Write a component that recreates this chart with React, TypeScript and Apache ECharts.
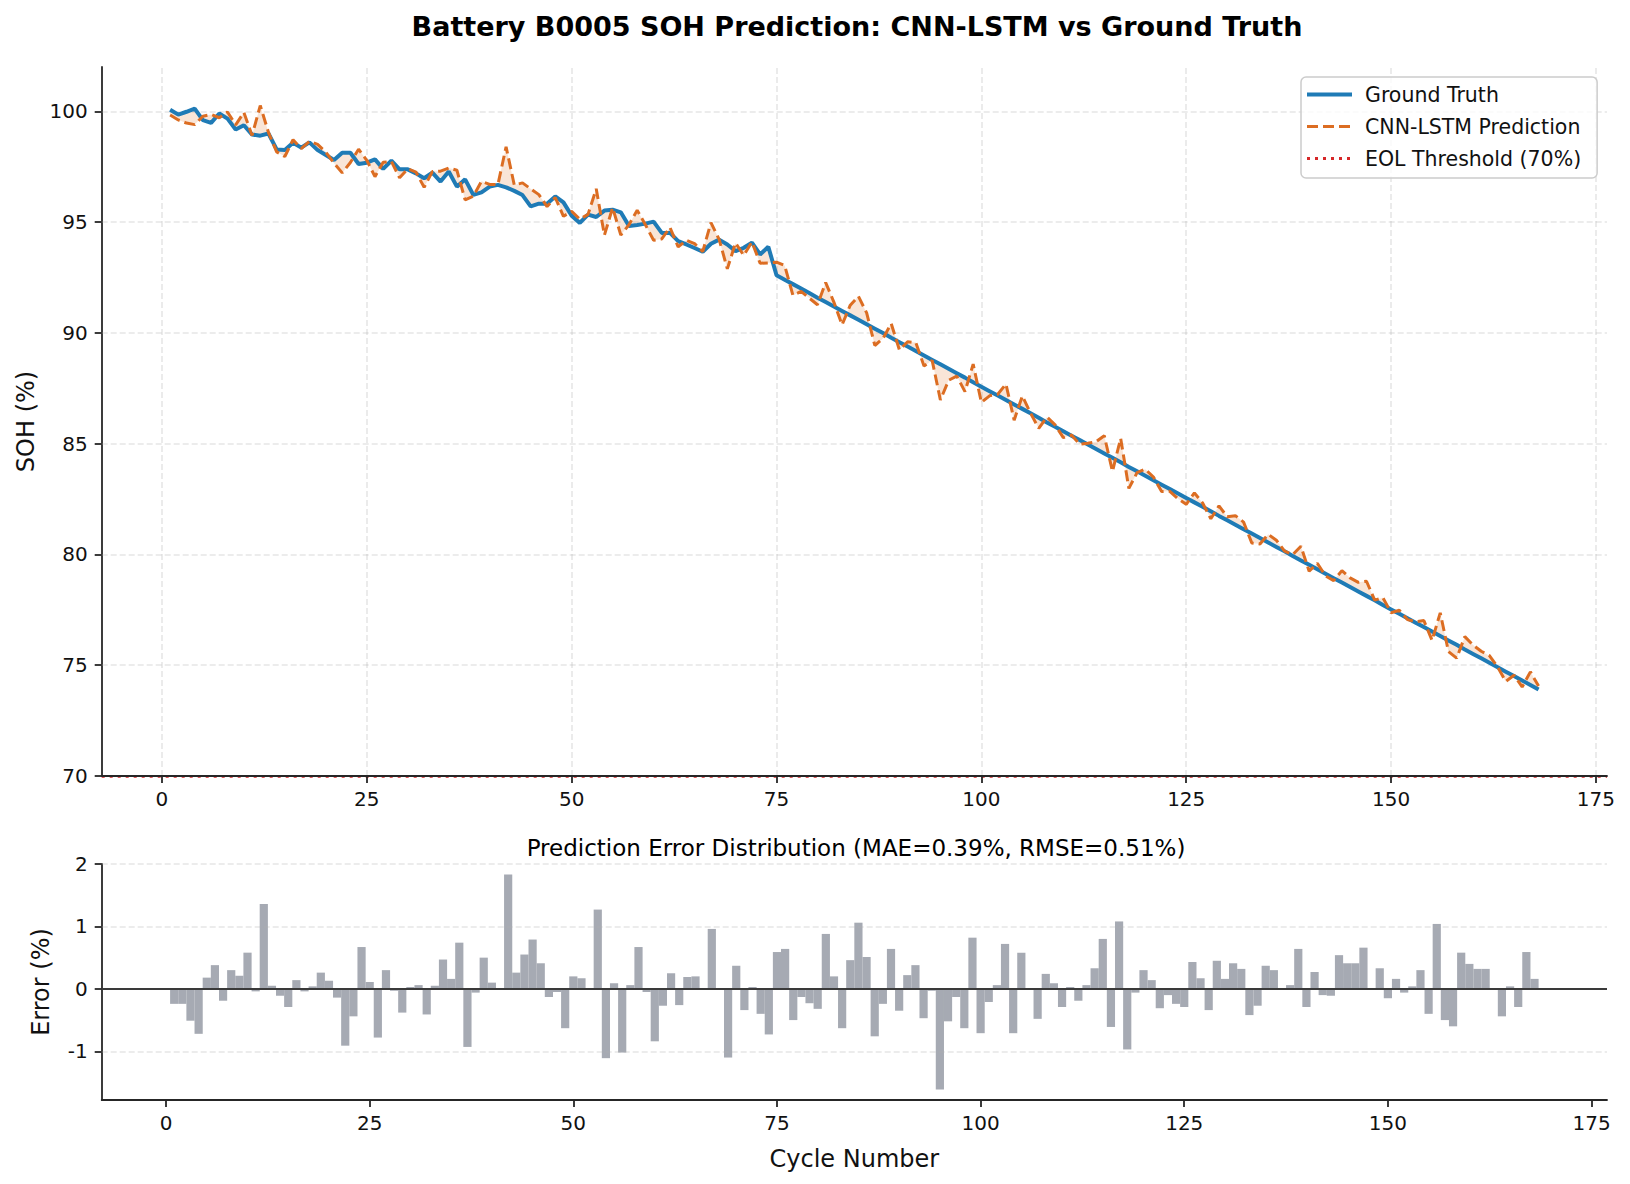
import React, { useEffect, useRef } from 'react';
import * as echarts from 'echarts';

// cycle numbers 1..168
const cycles: number[] = Array.from({ length: 168 }, (_, i) => i + 1);

const groundTruth: number[] = [
  100.07, 99.85, 99.98, 100.12, 99.6, 99.48, 99.9, 99.67, 99.18, 99.37,
  98.95, 98.9, 99.0, 98.28, 98.25, 98.58, 98.36, 98.6, 98.25, 98.03,
  97.8, 98.13, 98.13, 97.62, 97.68, 97.83, 97.4, 97.77, 97.38, 97.38,
  97.2, 96.98, 97.23, 96.83, 97.28, 96.6, 96.93, 96.23, 96.34, 96.6,
  96.68, 96.57, 96.41, 96.22, 95.71, 95.83, 95.83, 96.16, 95.89, 95.29,
  94.96, 95.34, 95.23, 95.52, 95.56, 95.44, 94.82, 94.87, 94.93, 95.02,
  94.51, 94.51, 94.14, 93.99, 93.83, 93.66, 94.02, 94.21, 93.99, 93.69,
  93.84, 94.07, 93.54, 93.89, 92.6, 92.4, 92.2, 92.0, 91.8, 91.59,
  91.39, 91.19, 90.99, 90.79, 90.59, 90.39, 90.19, 89.99, 89.78, 89.58,
  89.38, 89.18, 88.98, 88.78, 88.58, 88.38, 88.18, 87.98, 87.77, 87.57,
  87.37, 87.17, 86.97, 86.77, 86.57, 86.37, 86.17, 85.96, 85.76, 85.56,
  85.36, 85.16, 84.96, 84.76, 84.56, 84.36, 84.16, 83.95, 83.75, 83.55,
  83.35, 83.15, 82.95, 82.75, 82.55, 82.35, 82.15, 81.95, 81.74, 81.54,
  81.34, 81.14, 80.94, 80.74, 80.54, 80.34, 80.14, 79.93, 79.73, 79.53,
  79.33, 79.13, 78.93, 78.73, 78.53, 78.33, 78.13, 77.93, 77.72, 77.52,
  77.32, 77.12, 76.92, 76.72, 76.52, 76.32, 76.12, 75.92, 75.71, 75.51,
  75.31, 75.11, 74.91, 74.71, 74.51, 74.31, 74.11, 73.9,
];

// prediction error (prediction - truth)
const errors: number[] = [
  -0.24, -0.24, -0.51, -0.72, 0.18, 0.38, -0.19, 0.3, 0.21, 0.58,
  -0.04, 1.36, 0.05, -0.11, -0.29, 0.14, -0.04, 0.04, 0.26, 0.13,
  -0.14, -0.91, -0.44, 0.67, 0.11, -0.78, 0.3, -0.03, -0.38, 0.03,
  0.06, -0.41, 0.05, 0.47, 0.16, 0.74, -0.93, -0.06, 0.5, 0.1,
  0.01, 1.83, 0.26, 0.55, 0.79, 0.41, -0.13, -0.05, -0.63, 0.2,
  0.17, 0.01, 1.27, -1.11, 0.09, -1.02, 0.06, 0.67, -0.05, -0.84,
  -0.27, 0.25, -0.26, 0.19, 0.2, 0.01, 0.96, 0.01, -1.1, 0.37,
  -0.34, 0.03, -0.4, -0.73, 0.59, 0.64, -0.5, -0.13, -0.23, -0.32,
  0.88, 0.2, -0.63, 0.46, 1.06, 0.51, -0.76, -0.24, 0.64, -0.35,
  0.22, 0.38, -0.47, -0.03, -1.61, -0.52, -0.13, -0.63, 0.82, -0.71,
  -0.21, 0.06, 0.72, -0.71, 0.58, 0.01, -0.48, 0.24, 0.09, -0.29,
  0.03, -0.19, 0.06, 0.33, 0.8, -0.61, 1.08, -0.97, -0.06, 0.3,
  0.14, -0.31, -0.1, -0.24, -0.29, 0.43, 0.17, -0.34, 0.45, 0.16,
  0.41, 0.32, -0.42, -0.27, 0.37, 0.3, 0.01, 0.06, 0.64, -0.29,
  0.27, -0.1, -0.11, 0.54, 0.41, 0.41, 0.66, 0.01, 0.33, -0.15,
  0.16, -0.06, 0.04, 0.3, -0.4, 1.04, -0.5, -0.6, 0.58, 0.4,
  0.32, 0.32, 0.01, -0.44, 0.04, -0.29, 0.59, 0.16,
];

// model output = truth + error
const prediction: number[] = groundTruth.map((v, i) => +(v + errors[i]).toFixed(2));

const xTicks = [0, 25, 50, 75, 100, 125, 150, 175];
const sohTicks = [70, 75, 80, 85, 90, 95, 100];
const errTicks = [-1, 0, 1, 2];
const eolLevel = 70;

const FONT = 'DejaVu Sans';
const AXIS = '#262626';
const GRID = 'rgba(176,176,176,0.32)';
const BLUE = '#1f7bb6';
const ORANGE = '#dc6d22';
const RED = '#d62728';

const axisCommon = {
  axisLine: { show: true, onZero: false, lineStyle: { color: AXIS, width: 1.8 } },
  splitLine: { show: false },
};

const gridLine = { color: GRID, width: 1.6, type: [6, 3] as number[] };

const App: React.FC = () => {
  const chartRef = useRef<HTMLDivElement>(null);

  useEffect(() => {
    const chart = echarts.init(chartRef.current!, undefined, { renderer: 'svg' });

    const tickOpts = (values: number[]) => ({
      show: true,
      length: 7,
      customValues: values,
      lineStyle: { color: AXIS, width: 1.8 },
    });
    const labelOpts = (values: number[], margin: number) => ({
      customValues: values,
      fontSize: 20,
      fontFamily: FONT,
      color: '#111',
      margin,
    });

    // shaded band between truth and prediction, drawn as one polygon
    const bandRender = (params: any, api: any) => {
      if (params.dataIndex !== 0) return null;
      const upper = cycles.map((c, i) => api.coord([c, groundTruth[i]]));
      const lower = cycles.map((c, i) => api.coord([c, prediction[i]])).reverse();
      return {
        type: 'polygon',
        shape: { points: upper.concat(lower) },
        style: { fill: 'rgba(220,109,34,0.18)', stroke: 'none' },
        silent: true,
      };
    };

    const option = {
      animation: false,
      textStyle: { fontFamily: FONT },
      title: [
        {
          text: 'Battery B0005 SOH Prediction: CNN-LSTM vs Ground Truth',
          left: 857,
          top: 13,
          padding: 0,
          textAlign: 'center',
          textStyle: { fontSize: 27, fontWeight: 'bold', fontFamily: FONT, color: '#000' },
        },
        {
          text: 'Prediction Error Distribution (MAE=0.39%, RMSE=0.51%)',
          left: 856,
          top: 836,
          padding: 0,
          textAlign: 'center',
          textStyle: { fontSize: 23, fontWeight: 'normal', fontFamily: FONT, color: '#000' },
        },
      ],
      legend: {
        data: [
          { name: 'Ground Truth', lineStyle: { width: 4, color: BLUE } },
          { name: 'CNN-LSTM Prediction', lineStyle: { width: 3, color: ORANGE, type: [11, 5] } },
          { name: 'EOL Threshold (70%)', lineStyle: { width: 3, color: RED, type: [3, 5] } },
        ],
        orient: 'vertical',
        left: 1301,
        top: 77,
        itemWidth: 45,
        itemHeight: 14,
        itemGap: 11,
        padding: [7, 16, 9, 4],
        backgroundColor: 'rgba(255,255,255,0.8)',
        borderColor: '#cccccc',
        borderWidth: 1.5,
        borderRadius: 5,
        itemStyle: { opacity: 0 },
        textStyle: { fontSize: 20.5, fontFamily: FONT, color: '#111', lineHeight: 20, padding: [0, 0, 0, 8] },
      },
      grid: [
        { left: 101.7, top: 67, width: 1505.3, height: 709 },
        { left: 101.7, top: 864, width: 1505.3, height: 236 },
      ],
      xAxis: [
        {
          type: 'value',
          gridIndex: 0,
          min: -7.35,
          max: 176.35,
          z: 3,
          ...axisCommon,
          axisTick: tickOpts(xTicks),
          axisLabel: labelOpts(xTicks, 13),
        },
        {
          type: 'value',
          gridIndex: 1,
          min: -7.9,
          max: 176.9,
          z: 3,
          ...axisCommon,
          axisTick: tickOpts(xTicks),
          axisLabel: labelOpts(xTicks, 13),
          name: 'Cycle Number',
          nameLocation: 'middle',
          nameGap: 47,
          nameTextStyle: { fontSize: 24, fontFamily: FONT, color: '#111' },
        },
      ],
      yAxis: [
        {
          type: 'value',
          gridIndex: 0,
          min: 70,
          max: 102,
          ...axisCommon,
          axisTick: tickOpts(sohTicks),
          axisLabel: labelOpts(sohTicks, 14),
          name: 'SOH (%)',
          nameLocation: 'middle',
          nameGap: 64,
          nameTextStyle: { fontSize: 24, fontFamily: FONT, color: '#111' },
        },
        {
          type: 'value',
          gridIndex: 1,
          min: -1.78,
          max: 2,
          ...axisCommon,
          axisTick: tickOpts(errTicks),
          axisLabel: labelOpts(errTicks, 14),
          name: 'Error (%)',
          nameLocation: 'middle',
          nameGap: 49,
          nameTextStyle: { fontSize: 24, fontFamily: FONT, color: '#111' },
        },
      ],
      series: [
        {
          name: 'band',
          type: 'custom',
          xAxisIndex: 0,
          yAxisIndex: 0,
          data: cycles.map((c, i) => [c, groundTruth[i], prediction[i]]),
          encode: { x: 0, y: [1, 2] },
          renderItem: bandRender,
          silent: true,
          z: 1,
          markLine: {
            silent: true,
            symbol: 'none',
            z: 1,
            label: { show: false },
            lineStyle: gridLine,
            data: [
              ...xTicks.map((v) => ({ xAxis: v })),
              ...sohTicks.filter((v) => v !== eolLevel).map((v) => ({ yAxis: v })),
              { yAxis: eolLevel, lineStyle: { color: RED, width: 2.5, type: [3, 5] } },
            ],
          },
        },
        {
          name: 'Ground Truth',
          type: 'line',
          xAxisIndex: 0,
          yAxisIndex: 0,
          data: cycles.map((c, i) => [c, groundTruth[i]]),
          symbol: 'none',
          color: BLUE,
          lineStyle: { color: BLUE, width: 4 },
          z: 3,
        },
        {
          name: 'CNN-LSTM Prediction',
          type: 'line',
          xAxisIndex: 0,
          yAxisIndex: 0,
          data: cycles.map((c, i) => [c, prediction[i]]),
          symbol: 'none',
          color: ORANGE,
          lineStyle: { color: ORANGE, width: 3, type: [11, 5] },
          z: 4,
        },
        {
          name: 'EOL Threshold (70%)',
          type: 'line',
          xAxisIndex: 0,
          yAxisIndex: 0,
          data: [],
          symbol: 'none',
          color: RED,
          lineStyle: { color: RED, width: 3, type: [3, 5] },
        },
        {
          name: 'Error',
          type: 'bar',
          xAxisIndex: 1,
          yAxisIndex: 1,
          data: cycles.map((c, i) => [c, errors[i]]),
          barWidth: 8.2,
          itemStyle: { color: '#a6aab3' },
          markLine: {
            silent: true,
            symbol: 'none',
            z: 5,
            label: { show: false },
            lineStyle: gridLine,
            data: [
              ...errTicks.filter((v) => v !== 0).map((v) => ({ yAxis: v })),
              { yAxis: 0, lineStyle: { color: '#3a3a3a', width: 2, type: 'solid' } },
            ],
          },
        },
      ],
    };

    chart.setOption(option as any);

    return () => {
      chart.dispose();
    };
  }, []);

  return (
    <div
      ref={chartRef}
      style={{ position: 'absolute', left: 0, top: 0, width: 1630, height: 1184, background: '#fff' }}
    />
  );
};

export default App;
